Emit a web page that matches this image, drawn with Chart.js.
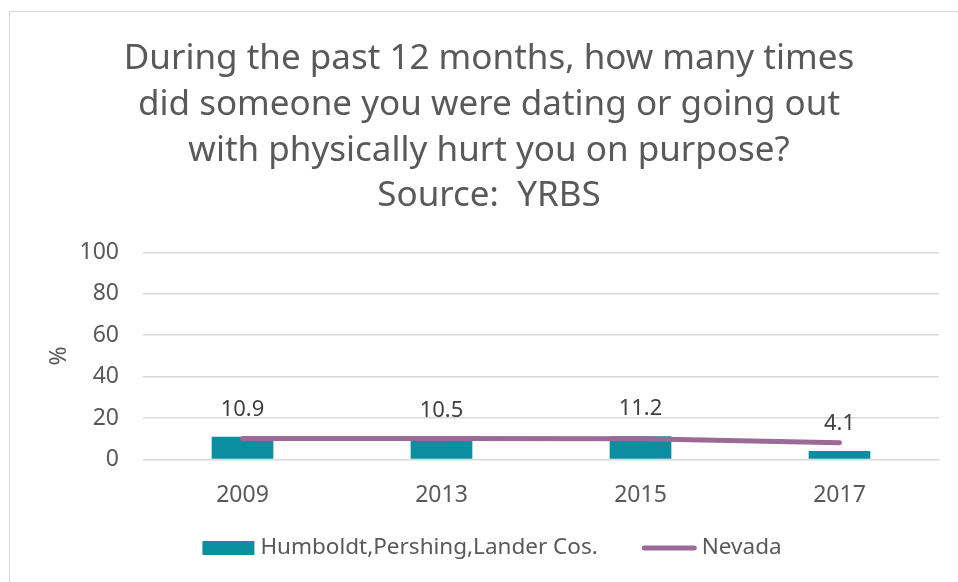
<!DOCTYPE html>
<html>
<head>
<meta charset="utf-8">
<script src="https://cdn.jsdelivr.net/npm/chart.js@4"></script>
<style>
  body { margin: 0; background: #fff; }
  #wrap { width: 958px; height: 582px; }
</style>
</head>
<body>
<div id="wrap"><canvas id="dating"></canvas></div>
<script>
const years = ["2009", "2013", "2015", "2017"];
const county = [10.9, 10.5, 11.2, 4.1];
const nevada = [10.1, 10.1, 10.0, 8.1];
const yTicks = [0, 20, 40, 60, 80, 100];
const titleLines = [
  "During the past 12 months, how many times",
  "did someone you were dating or going out",
  "with physically hurt you on purpose?",
  "Source:  YRBS"
];

const textGray = '#595959';
const font = "'Noto Sans', sans-serif";

// frame, bar value labels and the legend at the bottom
const extras = {
  id: 'extras',
  beforeDraw(chart) {
    const ctx = chart.ctx;
    ctx.save();
    ctx.strokeStyle = '#d9d9d9';
    ctx.lineWidth = 1;
    ctx.strokeRect(9.5, 11.5, 1000, 700);
    ctx.restore();
  },
  afterDatasetsDraw(chart) {
    const ctx = chart.ctx;
    const meta = chart.getDatasetMeta(0);
    ctx.save();
    ctx.font = "22px " + font;
    ctx.fillStyle = '#404040';
    ctx.textAlign = 'center';
    ctx.textBaseline = 'middle';
    meta.data.forEach((bar, i) => {
      ctx.fillText(county[i].toFixed(1), bar.x, bar.y - 27);
    });
    ctx.restore();
  },
  afterDraw(chart) {
    const ctx = chart.ctx;
    const ds = chart.data.datasets;
    const swatch = [52, 55], gap = [6, 5], itemGap = 44;
    ctx.save();
    ctx.font = "22.5px " + font;
    const widths = ds.map(d => ctx.measureText(d.label).width);
    let total = 0;
    widths.forEach((w, i) => { total += swatch[i] + gap[i] + w + (i ? itemGap : 0); });
    let x = 492 - total / 2;
    const y = 548;
    ds.forEach((d, i) => {
      if (d.type === 'bar') {
        ctx.fillStyle = d.backgroundColor;
        ctx.fillRect(x, y - 7, swatch[i], 14);
      } else {
        ctx.strokeStyle = d.borderColor;
        ctx.lineWidth = d.borderWidth;
        ctx.lineCap = 'round';
        ctx.beginPath();
        ctx.moveTo(x + 2.5, y);
        ctx.lineTo(x + swatch[i] - 2.5, y);
        ctx.stroke();
      }
      ctx.fillStyle = textGray;
      ctx.textAlign = 'left';
      ctx.textBaseline = 'middle';
      ctx.fillText(d.label, x + swatch[i] + gap[i], y);
      x += swatch[i] + gap[i] + widths[i] + itemGap;
    });
    ctx.restore();
  }
};

new Chart(document.getElementById("dating"), {
  data: {
    labels: years,
    datasets: [
      {
        type: 'bar',
        label: 'Humboldt,Pershing,Lander Cos.',
        data: county,
        backgroundColor: '#0b8e9f',
        barPercentage: 0.62,
        categoryPercentage: 0.5,
        order: 2
      },
      {
        type: 'line',
        label: 'Nevada',
        data: nevada,
        borderColor: '#9b6a96',
        backgroundColor: '#9b6a96',
        borderWidth: 5,
        borderCapStyle: 'round',
        pointRadius: 0,
        tension: 0,
        order: 1
      }
    ]
  },
  options: {
    responsive: true,
    maintainAspectRatio: false,
    animation: false,
    layout: { padding: { left: 20, top: 11, right: 0, bottom: 59 } },
    plugins: {
      legend: { display: false },
      title: {
        display: true,
        text: titleLines,
        color: textGray,
        font: { family: font, size: 35, weight: 'normal', lineHeight: 1.31 },
        padding: { top: 25, bottom: 33 }
      },
      tooltip: { enabled: false }
    },
    scales: {
      x: {
        grid: { display: false },
        border: { color: '#d9d9d9' },
        ticks: { color: textGray, font: { family: font, size: 23 }, padding: 14 }
      },
      y: {
        min: 0,
        max: 100,
        afterBuildTicks: (axis) => { axis.ticks = yTicks.map(v => ({ value: v })); },
        afterFit: (axis) => { axis.width = 123; },
        grid: { color: '#d9d9d9', lineWidth: 1.5, drawTicks: false },
        border: { display: false },
        ticks: { color: textGray, font: { family: font, size: 23 }, padding: 24 },
        title: {
          display: true,
          text: '%',
          color: textGray,
          font: { family: font, size: 23 },
          padding: { top: 26 }
        }
      },
      // empty spacer so the plot stops short of the right edge
      spacer: {
        position: 'right',
        display: true,
        afterFit: (axis) => { axis.width = 19; },
        grid: { display: false, drawTicks: false },
        border: { display: false },
        ticks: { display: false }
      }
    }
  },
  plugins: [extras]
});
</script>
</body>
</html>
